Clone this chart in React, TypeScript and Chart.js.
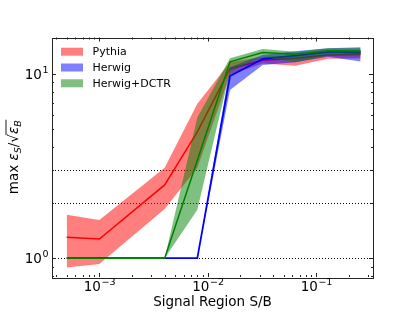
import React, { useEffect, useRef } from "react";
import { Chart, registerables } from "chart.js";
Chart.register(...registerables);

// Signal region S/B values
const sb = [5e-4, 1e-3, 4e-3, 8e-3, 0.016, 0.032, 0.064, 0.128, 0.256];
// Pythia
const pythiaMid = [1.3, 1.27, 2.5, 4.85, 10.7, 11.9, 12.2, 12.7, 12.8];
const pythiaHi = [1.72, 1.61, 3.1, 6.9, 11.6, 12.4, 12.6, 13.2, 13.4];
const pythiaLo = [0.89, 0.93, 1.85, 3.1, 9.9, 11.4, 11.1, 12.1, 12.2];
// Herwig
const herwigMid = [1, 1, 1, 1, 9.76, 12.1, 12.6, 13.2, 13.1];
const herwigHi = [1, 1, 1, 1, 10.9, 12.7, 13.3, 13.8, 14.0];
const herwigLo = [1, 1, 1, 1, 8.2, 11.2, 11.6, 12.4, 11.7];
// Herwig+DCTR
const dctrMid = [1, 1, 1, 3.4, 11.66, 13.1, 12.8, 13.4, 13.4];
const dctrHi = [1, 1, 1, 5.8, 12.2, 13.7, 13.2, 13.8, 13.8];
const dctrLo = [1, 1, 1, 1.83, 10.3, 12.4, 11.6, 12.6, 12.5];

const seriesNames = ["Pythia", "Herwig", "Herwig+DCTR"];
const hLines = [1, 2, 3];
const xMajor = [1e-3, 1e-2, 1e-1];
const xExp = ["\u22123", "\u22122", "\u22121"];
const yMajor = [1, 10];
const yExp = ["0", "1"];
const xTitle = "Signal Region S/B";

const X_MIN = 3.66e-4;
const X_MAX = 0.333;
const Y_MIN = 0.79;
const Y_MAX = 15.8;

const FONT = '"DejaVu Sans", sans-serif';
const lineColors = ["#ff0000", "#0000ff", "#008000"];
const bandColors = ["rgba(255,0,0,0.5)", "rgba(0,0,255,0.5)", "rgba(0,128,0,0.5)"];

const pts = (ys: number[]) => sb.map((x, i) => ({ x, y: ys[i] }));

function minorTicks(min: number, max: number) {
  const out: { v: number; major: boolean }[] = [];
  for (let e = Math.floor(Math.log10(min)); e <= Math.ceil(Math.log10(max)); e++) {
    for (let m = 1; m <= 9; m++) {
      const v = m * Math.pow(10, e);
      if (v >= min && v <= max) out.push({ v, major: m === 1 });
    }
  }
  return out;
}

const decorPlugin = {
  id: "decor",
  beforeDatasetsDraw(chart: any) {
    const { ctx, chartArea: a, scales } = chart;
    ctx.save();
    ctx.strokeStyle = "#000";
    ctx.lineWidth = 1;
    ctx.setLineDash([1, 2]);
    for (const v of hLines) {
      const y = Math.round(scales.y.getPixelForValue(v)) + 0.5;
      ctx.beginPath();
      ctx.moveTo(a.left, y);
      ctx.lineTo(a.right, y);
      ctx.stroke();
    }
    ctx.restore();
  },
  afterDatasetsDraw(chart: any) {
    const { ctx, chartArea: a, scales } = chart;
    ctx.save();
    ctx.strokeStyle = "#222";
    ctx.lineWidth = 1;
    for (const t of minorTicks(X_MIN, X_MAX)) {
      const x = Math.round(scales.x.getPixelForValue(t.v)) + 0.5;
      const L = t.major ? 4 : 2;
      ctx.beginPath();
      ctx.moveTo(x, a.bottom);
      ctx.lineTo(x, a.bottom - L);
      ctx.moveTo(x, a.top);
      ctx.lineTo(x, a.top + L);
      ctx.stroke();
    }
    for (const t of minorTicks(Y_MIN, Y_MAX)) {
      const y = Math.round(scales.y.getPixelForValue(t.v)) + 0.5;
      const L = t.major ? 4 : 2;
      ctx.beginPath();
      ctx.moveTo(a.left, y);
      ctx.lineTo(a.left + L, y);
      ctx.moveTo(a.right, y);
      ctx.lineTo(a.right - L, y);
      ctx.stroke();
    }
    ctx.strokeRect(Math.round(a.left) + 0.5, Math.round(a.top) + 0.5, Math.round(a.right - a.left), Math.round(a.bottom - a.top));
    ctx.restore();
  },
  afterDraw(chart: any) {
    const { ctx, chartArea: a, scales } = chart;
    ctx.save();
    ctx.fillStyle = "#000";
    ctx.textBaseline = "alphabetic";
    xMajor.forEach((v, i) => {
      const x = scales.x.getPixelForValue(v);
      ctx.font = `13.5px ${FONT}`;
      const w1 = ctx.measureText("10").width;
      ctx.font = `9.5px ${FONT}`;
      const w2 = ctx.measureText(xExp[i]).width;
      const x0 = x - (w1 + w2) / 2;
      ctx.font = `13.5px ${FONT}`;
      ctx.fillText("10", x0, 290.5);
      ctx.font = `9.5px ${FONT}`;
      ctx.fillText(xExp[i], x0 + w1 + 0.5, 284.5);
    });
    yMajor.forEach((v, i) => {
      const y = scales.y.getPixelForValue(v);
      ctx.font = `9.5px ${FONT}`;
      const w2 = ctx.measureText(yExp[i]).width;
      ctx.font = `13.5px ${FONT}`;
      const w1 = ctx.measureText("10").width;
      const x0 = a.left - 4 - w1 - w2;
      ctx.fillText("10", x0, y + 4.8);
      ctx.font = `9.5px ${FONT}`;
      ctx.fillText(yExp[i], x0 + w1 + 0.5, y - 1.3);
    });
    ctx.font = `13.5px ${FONT}`;
    ctx.textAlign = "center";
    ctx.fillText(xTitle, (a.left + a.right) / 2, 305.5);
    ctx.textAlign = "left";
    ctx.save();
    ctx.translate(18, (a.top + a.bottom) / 2);
    ctx.rotate(-Math.PI / 2);
    const pieces: { t: string; f: string; dy: number }[] = [
      { t: "max ", f: `13.5px ${FONT}`, dy: 0 },
      { t: "\u03b5", f: `oblique 13.5px ${FONT}`, dy: 0 },
      { t: "S", f: `oblique 9.5px ${FONT}`, dy: 3 },
      { t: "/", f: `13.5px ${FONT}`, dy: 0 },
      { t: "\u221a", f: `13.5px ${FONT}`, dy: 0 },
      { t: "\u03b5", f: `oblique 13.5px ${FONT}`, dy: 0 },
      { t: "B", f: `oblique 9.5px ${FONT}`, dy: 3 },
    ];
    const widths = pieces.map((p) => {
      ctx.font = p.f;
      return ctx.measureText(p.t).width;
    });
    const total = widths.reduce((s, w) => s + w, 0);
    let cx = -total / 2;
    let ovStart = 0;
    pieces.forEach((p, i) => {
      ctx.font = p.f;
      ctx.fillText(p.t, cx, p.dy);
      cx += widths[i];
      if (i === 4) ovStart = cx - 1;
    });
    ctx.strokeStyle = "#000";
    ctx.lineWidth = 0.9;
    ctx.beginPath();
    ctx.moveTo(ovStart, -12);
    ctx.lineTo(cx + 0.5, -12);
    ctx.stroke();
    ctx.restore();
    ctx.font = `11px ${FONT}`;
    seriesNames.forEach((name, i) => {
      const cy = 51.7 + i * 15.8;
      ctx.fillStyle = bandColors[i];
      ctx.fillRect(61, cy - 4, 22, 8);
      ctx.fillStyle = "#000";
      ctx.textBaseline = "middle";
      ctx.fillText(name, 92.5, cy + 0.5);
    });
    ctx.restore();
  },
};

export default function App() {
  const ref = useRef<HTMLCanvasElement | null>(null);
  useEffect(() => {
    if (!ref.current) return;
    const his = [pythiaHi, herwigHi, dctrHi];
    const los = [pythiaLo, herwigLo, dctrLo];
    const mids = [pythiaMid, herwigMid, dctrMid];
    const datasets: any[] = [];
    for (let s = 0; s < 3; s++) {
      const hiIdx = datasets.length;
      datasets.push({
        label: seriesNames[s] + " band",
        data: pts(his[s]),
        borderWidth: 0,
        pointRadius: 0,
        backgroundColor: bandColors[s],
        fill: hiIdx + 1,
        order: 20 - s * 4,
      });
      datasets.push({
        label: seriesNames[s] + " lo",
        data: pts(los[s]),
        borderWidth: 0,
        pointRadius: 0,
        fill: false,
        order: 19 - s * 4,
      });
      datasets.push({
        label: seriesNames[s],
        data: pts(mids[s]),
        borderColor: lineColors[s],
        borderWidth: s === 1 ? 1.8 : 1.5,
        pointRadius: 0,
        fill: false,
        order: 18 - s * 4,
      });
    }
    const chart = new Chart(ref.current, {
      type: "line",
      data: { datasets },
      options: {
        animation: false,
        responsive: true,
        maintainAspectRatio: false,
        layout: { padding: { left: 52, right: 42, top: 37.5, bottom: 35 } },
        elements: { line: { tension: 0 } },
        plugins: { legend: { display: false }, tooltip: { enabled: false } },
        scales: {
          x: { type: "logarithmic", min: X_MIN, max: X_MAX, display: false },
          y: { type: "logarithmic", min: Y_MIN, max: Y_MAX, display: false },
        },
      },
      plugins: [decorPlugin],
    });
    return () => chart.destroy();
  }, []);
  return (
    <div style={{ position: "absolute", left: 0, top: 0, width: 415, height: 312 }}>
      <canvas ref={ref} />
    </div>
  );
}
